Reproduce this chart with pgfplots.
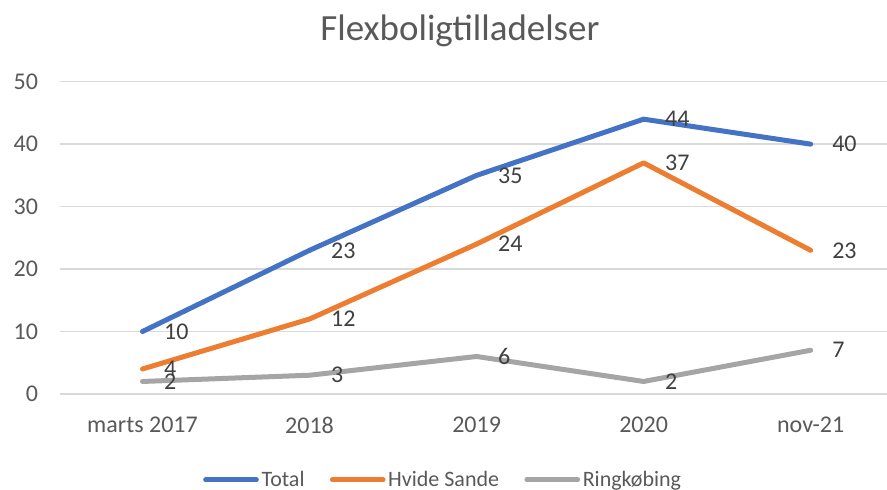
\documentclass[border=0pt]{standalone}
\usepackage{fontspec}
\setmainfont{Carlito}
\usepackage{pgfplots}
\pgfplotsset{compat=1.18}
\definecolor{cTotal}{HTML}{4472C4}
\definecolor{cHS}{HTML}{ED7D31}
\definecolor{cRK}{HTML}{A5A5A5}
\definecolor{txt}{HTML}{595959}
\definecolor{lbl}{HTML}{404040}
\definecolor{grd}{HTML}{D9D9D9}
\begin{document}
\begin{tikzpicture}
\begin{axis}[
 scale only axis, width=620.25pt, height=234.2pt,
 xmin=-0.494, xmax=4.457, ymin=0, ymax=50,
 xtick={0,1,2,3,4}, xticklabels={marts 2017,2018,2019,2020,nov-21},
 ytick={0,10,...,50},
 ymajorgrids, major grid style={grd, line width=1.1pt},
 axis line style={draw=none},
 major tick length=0pt,
 tick label style={font=\fontsize{18}{21}\selectfont, text=txt},
 yticklabel style={xshift=-13pt},
 xticklabel style={yshift=-14pt},
 /pgf/number format/assume math mode=true,
 clip=false,
 nodes near coords,
 every node near coord/.append style={anchor=west, xshift=11pt, font=\fontsize{18}{21}\selectfont, text=lbl},
 legend style={at={(0.4637,-0.275)}, anchor=center, draw=none, fill=none, legend columns=-1, font=\fontsize{16.5}{19}\selectfont, text=txt, /tikz/every even column/.append style={column sep=17pt}},
 legend image code/.code={\draw[#1, line width=3.75pt, line cap=round] (0pt,0pt) -- (38pt,0pt);},
 every axis plot/.append style={line width=3.75pt, line cap=round, line join=round, mark=none},
]
\addplot[cTotal] coordinates {(0,10) (1,23) (2,35) (3,44) (4,40)};
\addlegendentry{Total}
\addplot[cHS] coordinates {(0,4) (1,12) (2,24) (3,37) (4,23)};
\addlegendentry{Hvide Sande}
\addplot[cRK] coordinates {(0,2) (1,3) (2,6) (3,2) (4,7)};
\addlegendentry{Ringkøbing}
\node[anchor=base, font=\fontsize{27.7}{32}\selectfont, text=txt] at (axis description cs:0.4837,1.1335) {Flexboligtilladelser};
\coordinate (bl) at (axis description cs:-0.07255,-0.3074);
\coordinate (tr) at (axis description cs:1,1.2616);
\end{axis}
\pgfresetboundingbox
\useasboundingbox (bl) rectangle (tr);
\end{tikzpicture}
\end{document}
